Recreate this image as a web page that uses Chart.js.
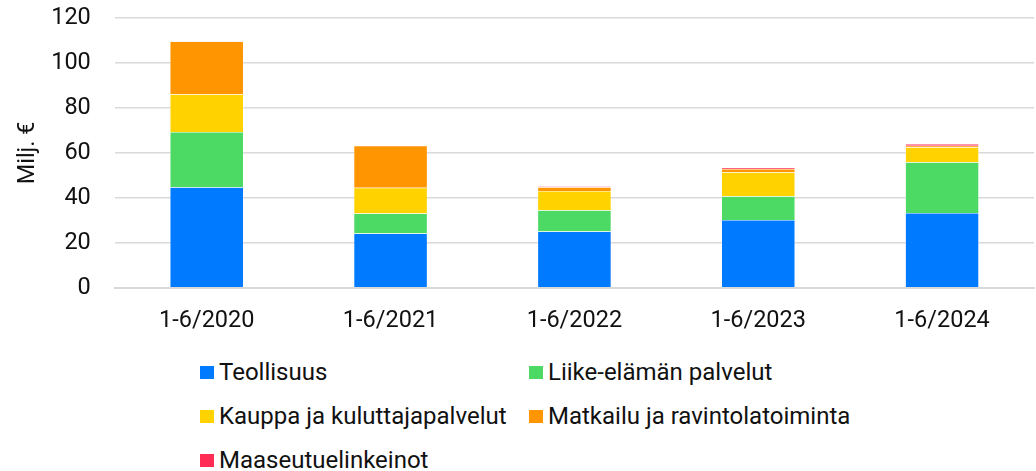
<!DOCTYPE html>
<html lang="fi">
	<head>
		<meta charset="utf-8">
		<title>Milj. €</title>
		<style>
			body {
				margin: 0;
				background-color: #FFF;
				font-family: Roboto, sans-serif;
			}
			#wrap {
				position: relative;
				width: 1036px;
				height: 354px;
			}
			#legend {
				position: absolute;
				left: 200px;
				top: 360px;
				display: grid;
				grid-template-columns: 329px 330px;
				row-gap: 20px;
				font-size: 24px;
				color: #111;
			}
			#legend div {
				display: flex;
				align-items: center;
				height: 24px;
				white-space: nowrap;
			}
			#legend span {
				display: inline-block;
				width: 14px;
				height: 13px;
				margin-right: 5px;
			}
		</style>
		<script src="https://cdn.jsdelivr.net/npm/chart.js"></script>
	</head>
	<body>
		<div id="wrap"><canvas id="chart"></canvas></div>
		<div id="legend"></div>
		<script>
			const labels = ["1-6/2020", "1-6/2021", "1-6/2022", "1-6/2023", "1-6/2024"];
			const teollisuus = [44.7, 24.2, 25.1, 30.2, 33.3];
			const liike = [24.6, 8.9, 9.4, 10.5, 22.6];
			const kauppa = [16.8, 11.4, 8.6, 10.7, 6.6];
			const matkailu = [23.5, 18.7, 1.6, 1.5, 0.7];
			const maaseutu = [0.1, 0.1, 0.5, 0.5, 0.8];

			function ds(label, data, color) {
				return {
					label: label,
					data: data,
					backgroundColor: color,
					borderColor: "#FFF",
					borderWidth: 0.5,
					barPercentage: 0.8,
					categoryPercentage: 0.5
				};
			}

			const chart = new Chart(document.getElementById("chart"), {
				type: "bar",
				data: {
					labels: labels,
					datasets: [
						ds("Teollisuus", teollisuus, "#007AFF"),
						ds("Liike-elämän palvelut", liike, "#4CD964"),
						ds("Kauppa ja kuluttajapalvelut", kauppa, "#FFD200"),
						ds("Matkailu ja ravintolatoiminta", matkailu, "#FF9500"),
						ds("Maaseutuelinkeinot", maaseutu, "#FF2D55")
					]
				},
				options: {
					responsive: true,
					maintainAspectRatio: false,
					animation: false,
					layout: { padding: { top: 0, right: 2, bottom: 0, left: 0 } },
					plugins: {
						legend: { display: false },
						tooltip: { enabled: false }
					},
					scales: {
						x: {
							stacked: true,
							grid: { display: false, drawTicks: false },
							border: { color: "#D9D9D9", width: 2 },
							ticks: { color: "#111", font: { family: "Roboto", size: 23.5 }, padding: 19 }
						},
						y: {
							stacked: true,
							min: 0,
							max: 120,
							grid: { color: "#D9D9D9", lineWidth: 1.5, drawTicks: true, tickLength: 20, tickColor: "rgba(0,0,0,0)" },
							border: { display: false },
							ticks: { stepSize: 20, color: "#111", font: { family: "Roboto", size: 23.5 }, padding: 4 },
							title: {
								display: true,
								text: "Milj. €",
								color: "#111",
								font: { family: "Roboto", size: 23.5 },
								padding: { top: 14, bottom: 5 }
							}
						}
					}
				}
			});

			const legend = document.getElementById("legend");
			chart.data.datasets.forEach(d => {
				const item = document.createElement("div");
				const box = document.createElement("span");
				box.style.background = d.backgroundColor;
				item.appendChild(box);
				item.appendChild(document.createTextNode(d.label));
				legend.appendChild(item);
			});
		</script>
	</body>
</html>
